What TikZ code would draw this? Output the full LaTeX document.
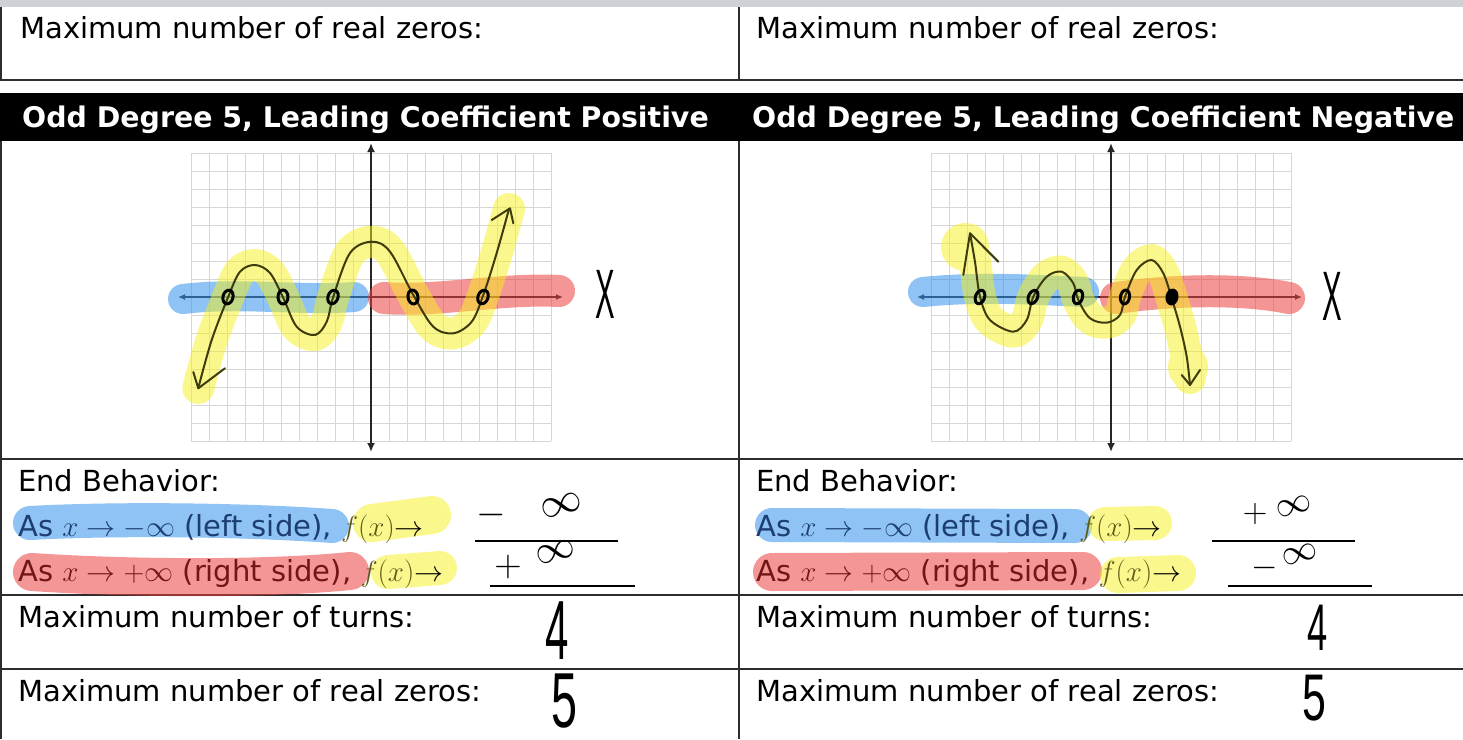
\RequirePackage{fix-cm}
\documentclass[tikz,border=0pt]{standalone}
\usepackage{fontspec}
\setmainfont{DejaVu Sans}
\newfontfamily\handfont{Liberation Sans}
\usetikzlibrary{arrows.meta}
\definecolor{hlblue}{RGB}{51,146,237}
\definecolor{hlred}{RGB}{237,64,64}
\definecolor{hlyellow}{RGB}{246,240,28}
\definecolor{gridc}{RGB}{214,214,214}
\definecolor{rulec}{RGB}{45,45,45}
\definecolor{topgray}{RGB}{206,210,215}
\definecolor{navytxt}{RGB}{28,62,112}
\definecolor{redtxt}{RGB}{112,22,22}
\definecolor{olivetxt}{RGB}{96,92,24}
\definecolor{curvec}{RGB}{62,60,12}
\begin{document}
\begin{tikzpicture}[x=1pt,y=-1pt,
  txt/.style={anchor=base west, inner sep=0pt, font=\fontsize{29}{35}\selectfont},
  head/.style={anchor=base west, inner sep=0pt, text=white, font=\fontsize{28.4}{34}\selectfont\bfseries},
  rule/.style={rulec, line width=1.8pt},
  gridline/.style={gridc, line width=0.8pt},
  axis/.style={black!85, line width=2.2pt, {Latex[length=9pt,width=8pt]}-{Latex[length=9pt,width=8pt]}},
  xaxis/.style={black!85, line width=1.3pt, {Latex[length=7pt,width=6pt]}-{Latex[length=7pt,width=6pt]}},
  curve/.style={curvec, line width=2pt, line cap=round, line join=round},
  zero/.style={black, line width=3pt},
  hlb/.style={hlblue, opacity=0.55, line width=34pt, line cap=round},
  hlr/.style={hlred, opacity=0.55, line width=38pt, line cap=round},
  hly/.style={hlyellow, opacity=0.5, line width=34pt, line cap=round},
  blank/.style={black, line width=1.4pt},
  hand/.style={inner sep=0pt},
  ]
\useasboundingbox (0,0) rectangle (1463,739);
\fill[white] (0,0) rectangle (1463,739);
\fill[topgray] (0,0) rectangle (1463,7);
\fill[black] (0,93) rectangle (1463,141);

% table rules
\draw[rule] (1,7) -- (1,80);
\draw[rule] (739,7) -- (739,80);
\draw[rule] (0,80) -- (1463,80);
\draw[rule] (1,141) -- (1,739);
\draw[rule] (739,141) -- (739,739);
\draw[rule] (0,459) -- (1463,459);
\draw[rule] (0,595) -- (1463,595);
\draw[rule] (0,669) -- (1463,669);

% ===== end behaviour highlights (under the text) =====
\draw[hlb] (30,523) .. controls (120,518) and (250,520) .. (332,526);
\draw[hly, line width=38pt] (372,523) -- (432,515);
\draw[hlr] (32,572) .. controls (120,578) and (260,580) .. (350,571);
\draw[hly] (388,572) -- (440,568);
\draw[hlb] (772,525) -- (1075,526);
\draw[hly] (1105,524) -- (1155,523);
\draw[hlr] (772,572) -- (1083,571);
\draw[hly, line width=36pt] (1118,575) -- (1178,573);

% texts
\node[txt] (tl) at (20,38) {Maximum number of real zeros:};
\node[txt] (tr) at (756,38) {Maximum number of real zeros:};
\node[head] (hl) at (22,127) {Odd Degree 5, Leading Coefficient Positive};
\node[head] (hr) at (752,127) {Odd Degree 5, Leading Coefficient Negative};

\node[txt] (ebl) at (18,491) {End Behavior:};
\node[txt] (l1) at (18,536) {\textcolor{navytxt}{As $x\to-\infty$ (left side),} \textcolor{olivetxt}{$f(x)$}$\to$};
\node[txt] (l2) at (18,581) {\textcolor{redtxt}{As $x\to+\infty$ (right side),} \textcolor{olivetxt}{$f(x)$}$\to$};
\node[txt] (ebr) at (756,491) {End Behavior:};
\node[txt] (r1) at (756,536) {\textcolor{navytxt}{As $x\to-\infty$ (left side),} \textcolor{olivetxt}{$f(x)$}$\to$};
\node[txt] (r2) at (756,581) {\textcolor{redtxt}{As $x\to+\infty$ (right side),} \textcolor{olivetxt}{$f(x)$}$\to$};

\node[txt] (tnl) at (18,627) {Maximum number of turns:};
\node[txt] (tnr) at (756,627) {Maximum number of turns:};
\node[txt] (zl) at (18,701) {Maximum number of real zeros:};
\node[txt] (zr) at (756,701) {Maximum number of real zeros:};

% blanks
\draw[blank] (475,541) -- (618,541);
\draw[blank] (490,586) -- (635,586);
\draw[blank] (1212,541) -- (1355,541);
\draw[blank] (1228,586) -- (1372,586);

% handwritten answers
\node[hand, font=\fontsize{38}{38}\selectfont] (a1m) at (491,515) {$-$};
\node[hand, font=\fontsize{42}{42}\selectfont, rotate=15] (a1i) at (561,505) {$\infty$};
\node[hand, font=\fontsize{38}{38}\selectfont] (a2p) at (508,567) {$+$};
\node[hand, font=\fontsize{40}{40}\selectfont, rotate=15] (a2i) at (556,552) {$\infty$};
\node[hand, font=\fontsize{34}{34}\selectfont] (b1p) at (1255,514) {$+$};
\node[hand, font=\fontsize{36}{36}\selectfont, rotate=15] (b1i) at (1294,506) {$\infty$};
\node[hand, font=\fontsize{34}{34}\selectfont] (b2m) at (1265,568) {$-$};
\node[hand, font=\fontsize{36}{36}\selectfont, rotate=15] (b2i) at (1300,554) {$\infty$};

\node[hand] (t4l) at (557,631) {\scalebox{0.5}[1]{\handfont\fontsize{84}{84}\selectfont 4}};
\node[hand] (z5l) at (565,701) {\scalebox{0.6}[1]{\handfont\fontsize{78}{78}\selectfont 5}};
\node[hand] (t4r) at (1318,628) {\scalebox{0.55}[1]{\handfont\fontsize{66}{66}\selectfont 4}};
\node[hand] (z5r) at (1314,698) {\scalebox{0.65}[1]{\handfont\fontsize{66}{66}\selectfont 5}};

\node[hand] (xl) at (605,294) {\scalebox{0.42}[1]{\handfont\fontsize{70}{70}\selectfont X}};
\node[hand] (xr) at (1332,296) {\scalebox{0.42}[1]{\handfont\fontsize{70}{70}\selectfont X}};

% ===== left graph =====
\foreach \i in {0,...,20} \draw[gridline] (191+18*\i,153) -- (191+18*\i,441);
\foreach \j in {0,...,16} \draw[gridline] (191,153+18*\j) -- (551,153+18*\j);
\draw[axis] (371,143) -- (371,452);
\draw[xaxis] (178,297) -- (563,297);
\draw[hlb, line width=30pt] (183,299) .. controls (240,292) and (300,301) .. (354,297);
\draw[hlr, line width=32pt] (384,298) .. controls (440,302) and (500,288) .. (559,291);
\begin{scope}[transparency group, opacity=0.5]
\draw[hlyellow, line width=32pt, line cap=round, line join=round] plot[smooth, tension=0.55] coordinates {(198.3,388) (211.7,340) (228.3,296.7) (240,271.7) (255,265) (270,273) (283.3,298) (296.7,326.7) (315,335) (326.7,321.7) (333.3,296.7) (350,253) (371.7,241.7) (390,251.7) (413.3,295) (433.3,326.7) (453.3,333.3) (471.7,321.7) (483.3,295) (496.7,253) (509,209)};
\end{scope}
\draw[curve] plot[smooth, tension=0.55] coordinates {(198.3,388) (211.7,340) (228.3,296.7) (240,271.7) (255,265) (270,273) (283.3,298) (296.7,326.7) (315,335) (326.7,321.7) (333.3,296.7) (350,253) (371.7,241.7) (390,251.7) (413.3,295) (433.3,326.7) (453.3,333.3) (471.7,321.7) (483.3,295) (496.7,253) (509,209)};
\draw[curve] (198.3,388.3) -- (225,368.3);
\draw[curve] (198.3,388.3) -- (193.3,372);
\draw[curve] (491.7,220) -- (510,208.3) -- (513.3,223.3);
\foreach \p/\r in {228/-15, 283/0, 333/-20, 413/10, 483/-20}
  \draw[zero, rotate around={\r:(\p,297)}] (\p,297) ellipse [x radius=5pt, y radius=7pt];

% ===== right graph =====
\foreach \i in {0,...,20} \draw[gridline] (931+18*\i,153) -- (931+18*\i,441);
\foreach \j in {0,...,16} \draw[gridline] (931,153+18*\j) -- (1291,153+18*\j);
\draw[axis] (1111,143) -- (1111,452);
\draw[xaxis] (917,297) -- (1302,297);
\draw[hlb, line width=30pt] (923,292) .. controls (980,286) and (1040,290) .. (1084,292);
\draw[hlr, line width=32pt] (1116,298) .. controls (1170,290) and (1240,288) .. (1289,298);
\begin{scope}[transparency group, opacity=0.5]
\draw[hlyellow, line width=32pt, line cap=round, line join=round] plot[smooth, tension=0.55] coordinates {(970,240) (975,262) (980,296.7) (990,320) (1013.3,331.7) (1026.7,320) (1033.3,296.7) (1046.7,276.7) (1061.7,271.7) (1073.3,283.3) (1078.3,300) (1090,318.3) (1106.7,322.7) (1120,315) (1125,296.7) (1136.7,270) (1151.7,260) (1163.3,273.3) (1171.7,298.3) (1180,326.7) (1186.7,356.7) (1190,378)};
\fill[hlyellow] (965,247) ellipse [x radius=24pt, y radius=24pt];
\fill[hlyellow] (1188,367) ellipse [x radius=20pt, y radius=22pt];
\end{scope}
\draw[curve] plot[smooth, tension=0.55] coordinates {(970,233.3) (975,262) (980,296.7) (990,320) (1013.3,331.7) (1026.7,320) (1033.3,296.7) (1046.7,276.7) (1061.7,271.7) (1073.3,283.3) (1078.3,300) (1090,318.3) (1106.7,322.7) (1120,315) (1125,296.7) (1136.7,270) (1151.7,260) (1163.3,273.3) (1171.7,298.3) (1180,326.7) (1186.7,356.7) (1190,385)};
\draw[curve] (963.3,275) -- (970,233.3) -- (998.3,261.7);
\draw[curve] (1181.7,375) -- (1190,385) -- (1200,370);
\foreach \p/\r in {980/-20, 1033/-25, 1078/-15, 1125/-10}
  \draw[zero, rotate around={\r:(\p,297)}] (\p,297) ellipse [x radius=4.5pt, y radius=7pt];
\fill[black, rotate around={-10:(1172,297)}] (1172,297) ellipse [x radius=6.5pt, y radius=8.5pt];
\end{tikzpicture}
\end{document}
